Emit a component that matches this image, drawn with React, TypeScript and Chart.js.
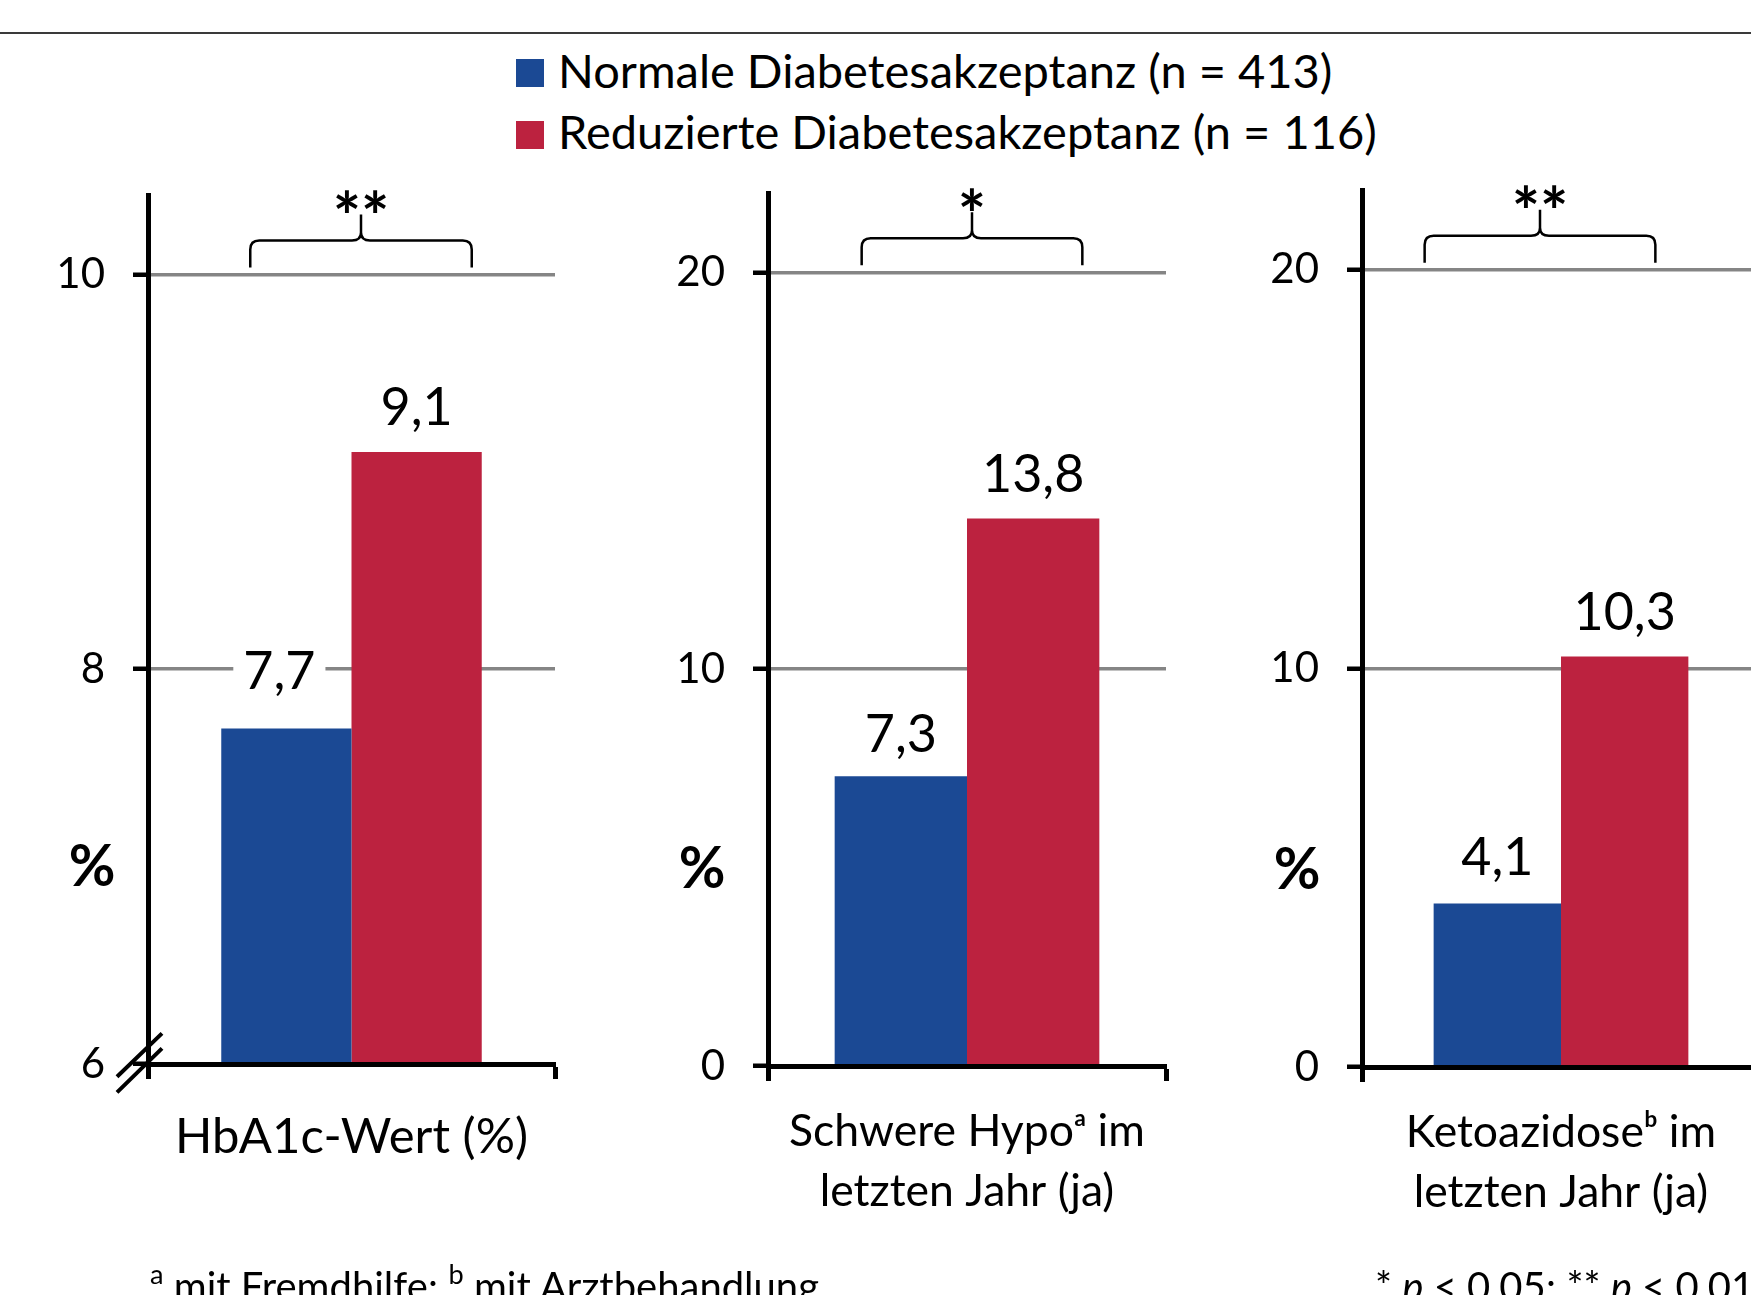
import React, { useEffect, useRef } from "react";
import { Chart, registerables } from "chart.js";

Chart.register(...registerables);

// ---- Series ----
const SERIES_LABELS = ["Normale Diabetesakzeptanz (n = 413)", "Reduzierte Diabetesakzeptanz (n = 116)"];
const SERIES_COLORS = ["#1b4994", "#bc223f"];

// ---- One panel per outcome ----
const CATEGORY_LABELS: string[][] = [
  ["HbA1c-Wert (%)"],
  ["Schwere Hypoᵃ im", "letzten Jahr (ja)"],
  ["Ketoazidoseᵇ im", "letzten Jahr (ja)"],
];
const NORMAL_VALUES = [7.7, 7.3, 4.1];
const REDUCED_VALUES = [9.1, 13.8, 10.3];
const SIGNIFICANCE = ["**", "*", "**"];

// ---- Y axes ----
const AXIS_MIN = [6, 0, 0];
const AXIS_MAX = [10.4, 22, 22];
const AXIS_TICKS = [[6, 8, 10], [0, 10, 20], [0, 10, 20]];
const AXIS_UNIT = "%";

// ---- Footnotes ----
const FOOTNOTE_MARKS = ["a", "b"];
const FOOTNOTE_TEXTS = ["mit Fremdhilfe;", "mit Arztbehandlung"];
const P_LEVELS = [["*", "0,05;"], ["**", "0,01"]];

// ---- Layout ----
const FONT = "Lato, 'Noto Sans', sans-serif";
const ASCENT = 0.987; // Lato ascent, used to place HTML text by its baseline
const PAGE_W = 1751;
const PAGE_H = 1295;
const CANVAS_TOP = 100;
const Y_AXIS_W = 148;
const PAD_RIGHT = 10;
const TICK_LEN = 15;

const PANELS = [
  { left: 148, top: 195.5, right: 555, bottom: 1064, barShare: 0.64, catFont: 49, catPad: 28, valueGap: [39, 27], valueShift: [-7, 0], bracketInset: [29, 10], unitX: 56, axisBreak: true },
  { left: 768, top: 193, right: 1166, bottom: 1066, barShare: 0.665, catFont: 44.5, catPad: 20.5, valueGap: [24, 26], valueShift: [0, 0], bracketInset: [27, 17], unitX: 66, axisBreak: false },
  { left: 1362, top: 190, right: 1760, bottom: 1067, barShare: 0.64, catFont: 44.5, catPad: 20.5, valueGap: [29, 26], valueShift: [0, 0], bracketInset: [-9, 33], unitX: 65, axisBreak: false },
];

const formatValue = (v: number) => v.toFixed(1).replace(".", ",");

function makeDecorations(index: number) {
  const p = PANELS[index];
  return {
    id: "panelDecorations",
    afterDatasetsDraw(chart: any) {
      const ctx = chart.ctx as CanvasRenderingContext2D;
      ctx.save();
      ctx.font = `52px ${FONT}`;
      ctx.textAlign = "center";
      ctx.textBaseline = "alphabetic";
      chart.data.datasets.forEach((ds: any, d: number) => {
        const bar = chart.getDatasetMeta(d).data[0];
        const text = formatValue(ds.data[0]);
        const x = bar.x + p.valueShift[d];
        const y = bar.y - p.valueGap[d];
        const w = ctx.measureText(text).width;
        ctx.fillStyle = "#fff";
        ctx.fillRect(x - w / 2 - 10, y - 40, w + 20, 46);
        ctx.fillStyle = "#000";
        ctx.fillText(text, x, y);
      });
      ctx.restore();
    },
    afterDraw(chart: any) {
      const ctx = chart.ctx as CanvasRenderingContext2D;
      const { left, bottom } = chart.chartArea;
      const ticks = AXIS_TICKS[index];
      const topY = chart.scales.y.getPixelForValue(ticks[ticks.length - 1]);
      const b0 = chart.getDatasetMeta(0).data[0];
      const b1 = chart.getDatasetMeta(1).data[0];
      const gl = b0.x - b0.width / 2;
      const gr = b1.x + b1.width / 2;
      const bl = gl + p.bracketInset[0];
      const br = gr - p.bracketInset[1];
      const bc = (bl + br) / 2;
      const yEnd = topY - 7;
      const yBar = topY - 34;
      const yTip = topY - 60;
      const r = 9;

      ctx.save();
      // significance brace
      ctx.strokeStyle = "#000";
      ctx.lineWidth = 2.5;
      ctx.lineJoin = "round";
      ctx.beginPath();
      ctx.moveTo(bl, yEnd);
      ctx.lineTo(bl, yBar + r);
      ctx.quadraticCurveTo(bl, yBar, bl + r, yBar);
      ctx.lineTo(bc - r, yBar);
      ctx.quadraticCurveTo(bc, yBar, bc, yBar - 8);
      ctx.lineTo(bc, yTip);
      ctx.moveTo(bc, yBar - 8);
      ctx.quadraticCurveTo(bc, yBar, bc + r, yBar);
      ctx.lineTo(br - r, yBar);
      ctx.quadraticCurveTo(br, yBar, br, yBar + r);
      ctx.lineTo(br, yEnd);
      ctx.stroke();

      // stars, sized so one asterisk is about 22px wide, centred above the brace tip
      ctx.fillStyle = "#000";
      ctx.textAlign = "center";
      ctx.textBaseline = "alphabetic";
      ctx.font = `bold 100px ${FONT}`;
      const one = ctx.measureText("*");
      const oneW = one.actualBoundingBoxLeft + one.actualBoundingBoxRight || 40;
      const starSize = Math.max(30, Math.min(120, (100 * 22) / oneW));
      ctx.font = `bold ${starSize}px ${FONT}`;
      const m = ctx.measureText(SIGNIFICANCE[index]);
      const cy = topY - 73;
      const by = cy + (m.actualBoundingBoxAscent - m.actualBoundingBoxDescent) / 2;
      ctx.fillText(SIGNIFICANCE[index], bc, by);

      // unit label beside the axis
      ctx.font = `bold 57px ${FONT}`;
      ctx.textBaseline = "middle";
      ctx.fillText(AXIS_UNIT, left - p.unitX, bottom - 196);

      // axis break marks
      if (p.axisBreak) {
        ctx.lineWidth = 4;
        ctx.lineCap = "butt";
        ctx.beginPath();
        ctx.moveTo(left - 31, bottom + 12.7);
        ctx.lineTo(left + 14, bottom - 30.6);
        ctx.moveTo(left - 31, bottom + 28.4);
        ctx.lineTo(left + 14, bottom - 15.6);
        ctx.stroke();
      }
      ctx.restore();
    },
  };
}

function Panel({ index }: { index: number }) {
  const ref = useRef<HTMLCanvasElement>(null);
  const p = PANELS[index];
  const cLeft = p.left - Y_AXIS_W;
  const width = p.right - cLeft + PAD_RIGHT;
  const height = PAGE_H - CANVAS_TOP;

  useEffect(() => {
    if (!ref.current) return;
    const chart = new Chart(ref.current, {
      type: "bar",
      data: {
        labels: [CATEGORY_LABELS[index]],
        datasets: [
          { label: SERIES_LABELS[0], data: [NORMAL_VALUES[index]], backgroundColor: SERIES_COLORS[0], borderWidth: 0 },
          { label: SERIES_LABELS[1], data: [REDUCED_VALUES[index]], backgroundColor: SERIES_COLORS[1], borderWidth: 0 },
        ],
      },
      options: {
        animation: false,
        responsive: false,
        maintainAspectRatio: false,
        events: [],
        layout: { autoPadding: false, padding: { left: 0, top: p.top - CANVAS_TOP, right: PAD_RIGHT, bottom: 0 } },
        datasets: { bar: { barPercentage: 1, categoryPercentage: p.barShare } },
        plugins: { legend: { display: false }, tooltip: { enabled: false } },
        scales: {
          x: {
            offset: true,
            afterFit: (s: any) => { s.height = PAGE_H - p.bottom; },
            grid: { display: true, offset: true, drawOnChartArea: false, drawTicks: true, tickLength: TICK_LEN, tickWidth: 5, tickColor: "#000", color: "#000" },
            border: { display: true, color: "#000", width: 5, z: 1 },
            ticks: { color: "#000", padding: p.catPad, maxRotation: 0, autoSkip: false, font: { family: FONT, size: p.catFont, lineHeight: "60px" } },
          },
          y: {
            min: AXIS_MIN[index],
            max: AXIS_MAX[index],
            afterFit: (s: any) => { s.width = Y_AXIS_W; },
            afterBuildTicks: (s: any) => { s.ticks = AXIS_TICKS[index].map((v) => ({ value: v })); },
            grid: { color: "#858585", lineWidth: 3.5, drawTicks: true, tickLength: TICK_LEN, tickWidth: 4.5, tickColor: "#000" },
            border: { display: true, color: "#000", width: 5, z: 1 },
            ticks: { color: "#000", padding: 28, font: { family: FONT, size: 42 }, callback: (v: any) => String(v) },
          },
        },
      },
      plugins: [makeDecorations(index)],
    } as any);
    return () => chart.destroy();
  }, [index]);

  return (
    <canvas
      ref={ref}
      width={width}
      height={height}
      style={{ position: "absolute", left: cLeft, top: CANVAS_TOP, width, height }}
    />
  );
}

const LEGEND_BOX_TOPS = [59, 121];
const LEGEND_BASELINES = [88.5, 149.5];
const LEGEND_FONT = 47;
const NOTE_FONT = 40;
const NOTE_BASELINE = 1301;

export default function App() {
  const sup: React.CSSProperties = { position: "relative", top: "-0.6em", fontSize: "0.68em" };
  const noteStyle = (left: number): React.CSSProperties => ({
    position: "absolute",
    left,
    top: NOTE_BASELINE - ASCENT * NOTE_FONT,
    fontSize: NOTE_FONT,
    lineHeight: 1.2,
    whiteSpace: "nowrap",
  });
  return (
    <div
      style={{
        position: "fixed",
        left: 0,
        top: 0,
        width: PAGE_W,
        height: PAGE_H,
        overflow: "hidden",
        background: "#fff",
        fontFamily: FONT,
        color: "#000",
      }}
    >
      <div style={{ position: "absolute", left: 0, top: 32, width: PAGE_W, height: 2, background: "#3a3a3a" }} />
      {SERIES_LABELS.map((label, i) => (
        <React.Fragment key={label}>
          <div
            style={{ position: "absolute", left: 516, top: LEGEND_BOX_TOPS[i], width: 28, height: 28, background: SERIES_COLORS[i] }}
          />
          <div
            style={{
              position: "absolute",
              left: 558,
              top: LEGEND_BASELINES[i] - ASCENT * LEGEND_FONT,
              fontSize: LEGEND_FONT,
              lineHeight: 1.2,
              whiteSpace: "nowrap",
            }}
          >
            {label}
          </div>
        </React.Fragment>
      ))}
      {PANELS.map((_, i) => (
        <Panel key={i} index={i} />
      ))}
      <div style={noteStyle(150)}>
        <span style={sup}>{FOOTNOTE_MARKS[0]}</span> {FOOTNOTE_TEXTS[0]} <span style={sup}>{FOOTNOTE_MARKS[1]}</span>{" "}
        {FOOTNOTE_TEXTS[1]}
      </div>
      <div style={noteStyle(1375)}>
        {P_LEVELS.map(([stars, level], i) => (
          <React.Fragment key={stars}>
            {i > 0 ? " " : ""}
            {stars} <i>p</i> &lt; {level}
          </React.Fragment>
        ))}
      </div>
    </div>
  );
}
